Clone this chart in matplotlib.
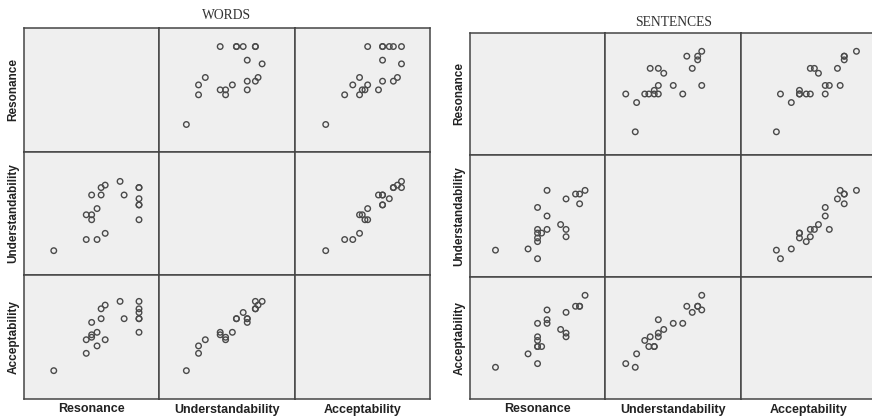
import matplotlib.pyplot as plt

variables = ["Resonance", "Understandability", "Acceptability"]

# scores (0-100 scale, no ticks shown in the original)
words_resonance = [85, 85, 85, 85, 85, 85, 74, 71, 60, 60, 57, 57, 54, 54, 50, 50, 50, 46, 46, 22]
words_understandability = [45, 57, 57, 62, 71, 71, 65, 76, 34, 73, 65, 71, 29, 54, 45, 49, 65, 29, 49, 20]
words_acceptability = [54, 65, 65, 70, 73, 79, 65, 79, 48, 76, 65, 73, 43, 54, 52, 50, 62, 37, 48, 23]

sentences_resonance = [50, 43, 19, 50, 50, 50, 50, 53, 57, 71, 71, 67, 57, 50, 81, 71, 81, 78, 85, 57]
sentences_understandability = [15, 23, 22, 29, 32, 36, 39, 36, 39, 33, 39, 43, 50, 57, 60, 64, 68, 68, 71, 71]
sentences_acceptability = [29, 37, 26, 48, 43, 43, 51, 43, 65, 51, 54, 57, 62, 62, 76, 71, 76, 76, 85, 73]

W, H = 872, 417
fig = plt.figure(figsize=(W / 100, H / 100), dpi=100)
fig.patch.set_facecolor("white")


def scatter_matrix(data, title, left, top, cell_w, cell_h, title_y, ylabel_x):
	for i in range(3):
		for j in range(3):
			ax = fig.add_axes([(left + j * cell_w) / W, 1 - (top + (i + 1) * cell_h) / H,
							   cell_w / W, cell_h / H])
			ax.set_facecolor("#efefef")
			ax.set_xlim(0, 100)
			ax.set_ylim(0, 100)
			ax.set_xticks([])
			ax.set_yticks([])
			for s in ax.spines.values():
				s.set_color("#454545")
				s.set_linewidth(1.1)
			if i != j:
				ax.scatter(data[j], data[i], s=16, facecolors="none",
						   edgecolors="#4a4a4a", linewidths=1.0, clip_on=False)

	fig.text((left + 1.5 * cell_w) / W, 1 - title_y / H, title, family="Liberation Serif",
			 fontsize=9.8, color="#333333", ha="center", va="center")
	for k, name in enumerate(variables):
		fig.text(ylabel_x / W, 1 - (top + (k + 0.5) * cell_h) / H, name, rotation=90,
				 family="Liberation Sans", fontweight="bold", fontsize=8.5,
				 color="#222222", ha="center", va="center")
		fig.text((left + (k + 0.5) * cell_w) / W, 1 - 409.5 / H, name,
				 family="Liberation Sans", fontweight="bold", fontsize=9,
				 color="#222222", ha="center", va="center")


scatter_matrix([words_resonance, words_understandability, words_acceptability],
			   "WORDS", 24, 28, 135.3, 123.7, 15.7, 13.3)
scatter_matrix([sentences_resonance, sentences_understandability, sentences_acceptability],
			   "SENTENCES", 469.7, 33, 135.7, 122, 22.7, 459.7)

fig.savefig("out.png", dpi=100)
